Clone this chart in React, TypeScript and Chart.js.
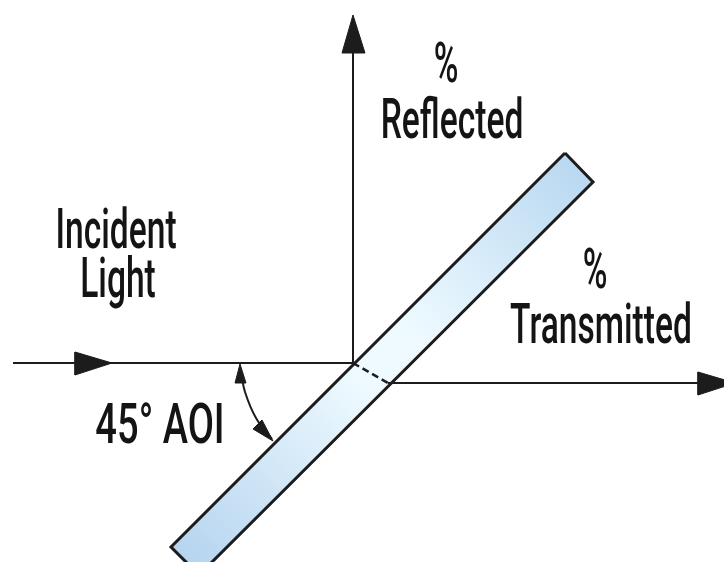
import React, { useEffect, useRef } from "react";
import { Chart, registerables } from "chart.js";

Chart.register(...registerables);

// Diagram geometry (diagram units, y grows downward)
const slabX = [565, 593, 199, 171, 565];
const slabY = [153, 182, 575, 547, 153];

const incidentX = [13, 353];
const incidentY = [363, 363];

const reflectedX = [353, 353];
const reflectedY = [363, 40];

const transmittedX = [388, 705];
const transmittedY = [383, 383];

const refractedX = [353, 388];
const refractedY = [363, 383];

const aoiArcX = [241, 245, 256, 272];
const aoiArcY = [372, 392, 418, 439];

const incidentHeadX = [112, 75, 75, 112];
const incidentHeadY = [363, 352, 375, 363];

const reflectedHeadX = [353, 342, 365, 353];
const reflectedHeadY = [15, 53, 53, 15];

const transmittedHeadX = [735, 698, 698, 735];
const transmittedHeadY = [383, 372, 395, 383];

const aoiTopHeadX = [240, 235, 246, 240];
const aoiTopHeadY = [364, 383, 383, 364];

const aoiBottomHeadX = [273, 253, 262, 273];
const aoiBottomHeadY = [441, 429, 420, 441];

// Labels
const labelTexts = ["%", "Reflected", "Incident", "Light", "%", "Transmitted", "45° AOI"];
const labelX = [446, 452, 116, 118, 595, 601, 160];
const labelY = [82, 138, 248, 297, 288, 343, 443];

// Horizontal condensing applied to each label (style)
const labelStretch = [0.6, 0.6, 0.6, 0.6, 0.6, 0.6, 0.68];

const pts = (xs: number[], ys: number[]) => xs.map((x, i) => ({ x, y: ys[i] }));

const INK = "#1c1c1c";

export default function App() {
  const ref = useRef<HTMLCanvasElement | null>(null);

  useEffect(() => {
    if (!ref.current) return;

    const textPlugin = {
      id: "diagramText",
      afterDatasetsDraw(chart: any) {
        const { ctx, scales } = chart;
        const sx = scales.x;
        const sy = scales.y;
        ctx.save();
        ctx.fillStyle = "#141414";
        ctx.textAlign = "center";
        ctx.textBaseline = "alphabetic";
        ctx.font = "500 56px Roboto, 'Liberation Sans', sans-serif";
        labelTexts.forEach((t, i) => {
          ctx.save();
          ctx.translate(sx.getPixelForValue(labelX[i]), sy.getPixelForValue(labelY[i]));
          ctx.scale(labelStretch[i], 1);
          ctx.fillText(t, 0, 0);
          ctx.restore();
        });
        ctx.restore();
      },
    };

    const slabGradient = (c: any) => {
      const chart = c.chart;
      if (!chart.chartArea) return "#cfe6f7";
      const sx = chart.scales.x;
      const sy = chart.scales.y;
      const g = chart.ctx.createLinearGradient(
        sx.getPixelForValue((slabX[0] + slabX[1]) / 2),
        sy.getPixelForValue((slabY[0] + slabY[1]) / 2),
        sx.getPixelForValue((slabX[2] + slabX[3]) / 2),
        sy.getPixelForValue((slabY[2] + slabY[3]) / 2)
      );
      g.addColorStop(0, "#b9d8f1");
      g.addColorStop(0.42, "#eefaff");
      g.addColorStop(0.55, "#eefaff");
      g.addColorStop(1, "#b6d4ef");
      return g;
    };

    const line = (xs: number[], ys: number[], extra: any = {}) => ({
      data: pts(xs, ys),
      showLine: true,
      borderColor: INK,
      borderWidth: 2,
      pointRadius: 0,
      fill: false,
      tension: 0,
      order: 1,
      ...extra,
    });

    const head = (xs: number[], ys: number[]) =>
      line(xs, ys, { fill: "shape", backgroundColor: INK, borderWidth: 1, order: 0 });

    const chart = new Chart(ref.current, {
      type: "scatter",
      data: {
        datasets: [
          head(incidentHeadX, incidentHeadY),
          head(reflectedHeadX, reflectedHeadY),
          head(transmittedHeadX, transmittedHeadY),
          head(aoiTopHeadX, aoiTopHeadY),
          head(aoiBottomHeadX, aoiBottomHeadY),
          line(incidentX, incidentY),
          line(reflectedX, reflectedY),
          line(transmittedX, transmittedY),
          line(refractedX, refractedY, { borderDash: [7, 4], borderWidth: 2.5 }),
          line(aoiArcX, aoiArcY, { tension: 0.4 }),
          line(slabX, slabY, {
            fill: "shape",
            backgroundColor: slabGradient,
            borderWidth: 3,
            borderJoinStyle: "miter",
            order: 5,
          }),
        ],
      },
      options: {
        animation: false,
        responsive: true,
        maintainAspectRatio: false,
        layout: { padding: 0 },
        events: [],
        scales: {
          x: { type: "linear", min: 0, max: 724, display: false },
          y: { type: "linear", min: 0, max: 562, reverse: true, display: false },
        },
        plugins: {
          legend: { display: false },
          tooltip: { enabled: false },
          title: { display: false },
        },
      },
      plugins: [textPlugin],
    });

    return () => chart.destroy();
  }, []);

  return (
    <div
      style={{
        position: "fixed",
        left: 0,
        top: 0,
        width: 724,
        height: 562,
        background: "#ffffff",
      }}
    >
      <canvas ref={ref} style={{ display: "block" }} />
    </div>
  );
}
